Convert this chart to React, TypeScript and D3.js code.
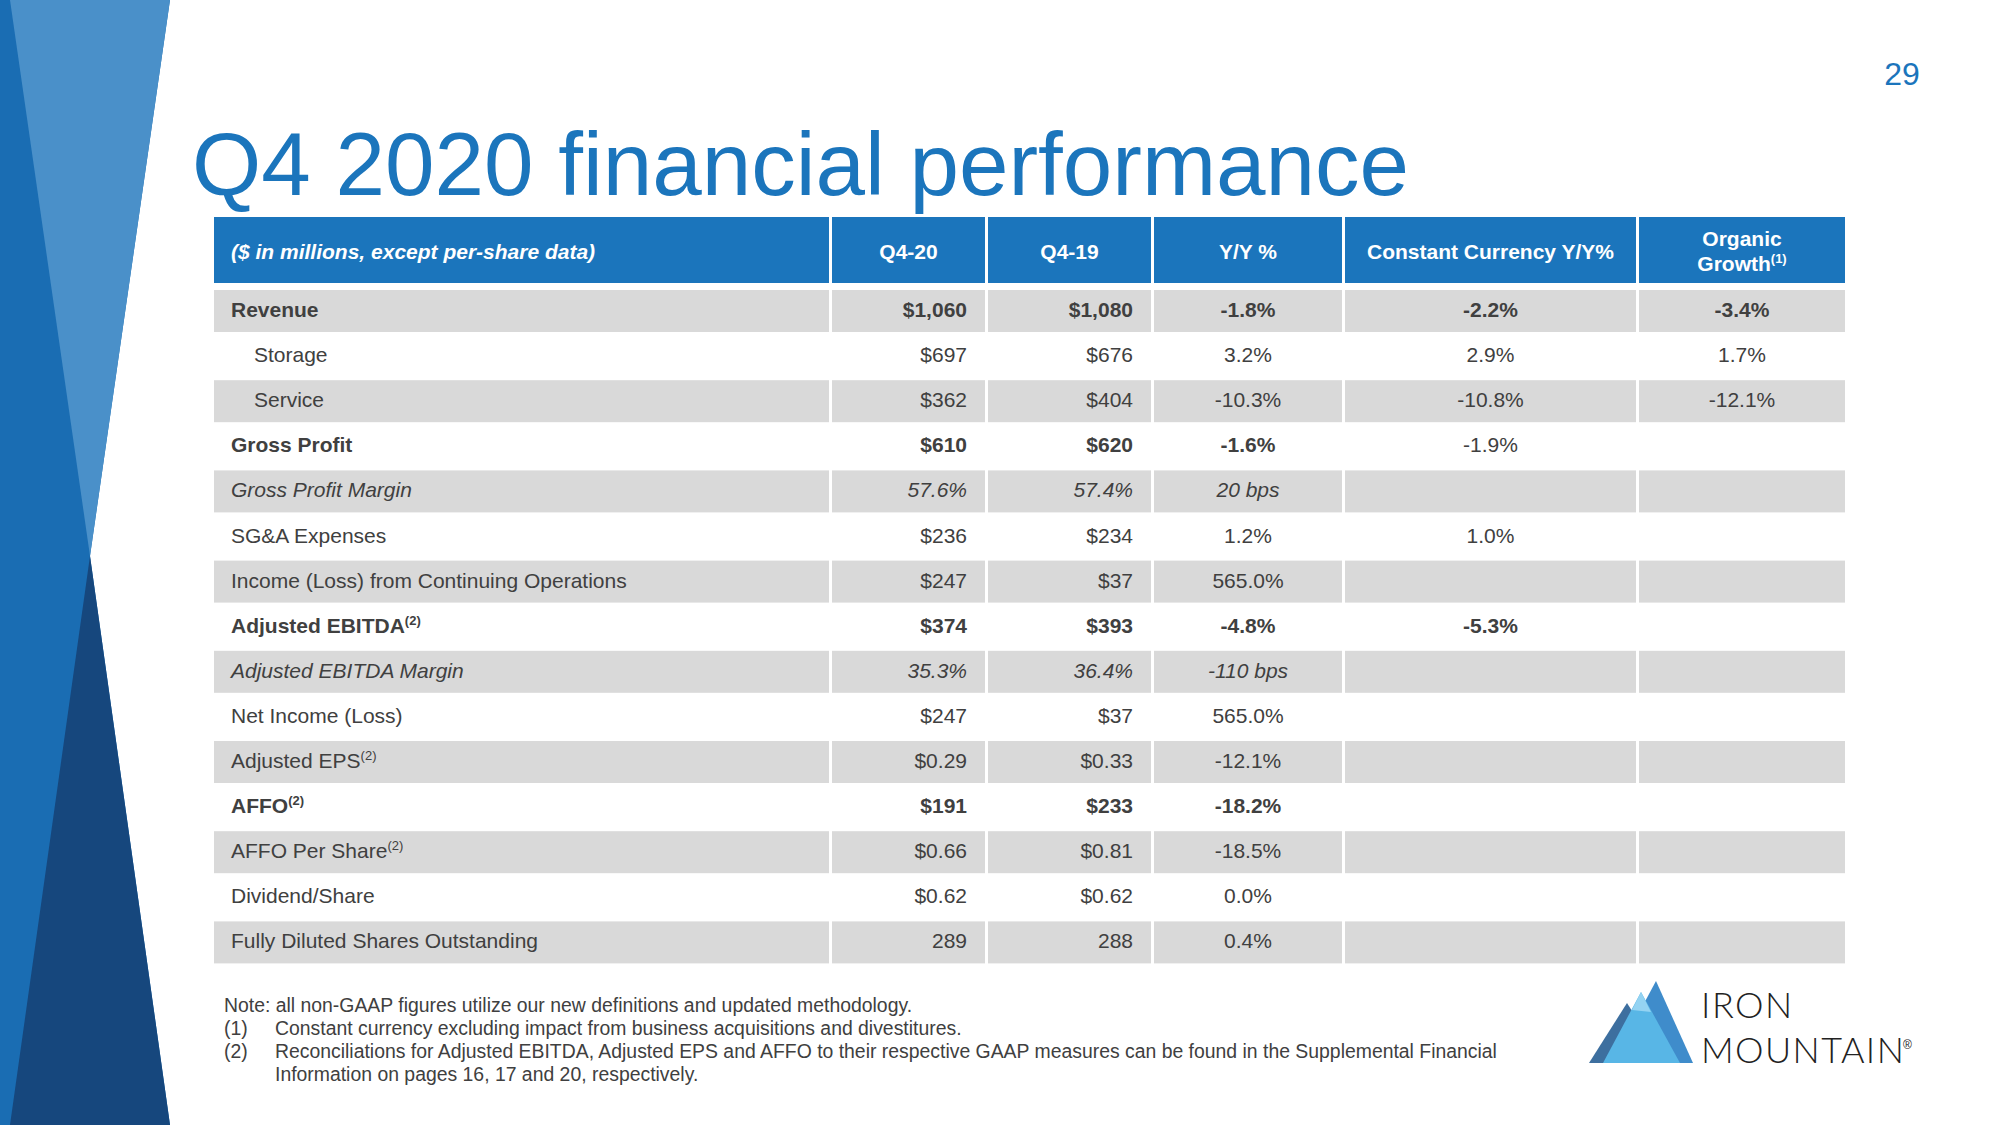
import React from "react";
import * as d3 from "d3";

// ---------- data ----------
const headers = ["($ in millions, except per-share data)", "Q4-20", "Q4-19", "Y/Y %", "Constant Currency Y/Y%", "Organic|Growth"];
const rowLabels = [
  "Revenue", "Storage", "Service", "Gross Profit", "Gross Profit Margin", "SG&A Expenses",
  "Income (Loss) from Continuing Operations", "Adjusted EBITDA", "Adjusted EBITDA Margin",
  "Net Income (Loss)", "Adjusted EPS", "AFFO", "AFFO Per Share", "Dividend/Share",
  "Fully Diluted Shares Outstanding",
];
const rowSup = ["", "", "", "", "", "", "", "(2)", "", "", "(2)", "(2)", "(2)", "", ""];
const rowStyle = ["bold", "indent", "indent", "bold", "italic", "", "", "bold", "italic", "", "", "bold", "", "", ""];
const q420 = ["$1,060", "$697", "$362", "$610", "57.6%", "$236", "$247", "$374", "35.3%", "$247", "$0.29", "$191", "$0.66", "$0.62", "289"];
const q419 = ["$1,080", "$676", "$404", "$620", "57.4%", "$234", "$37", "$393", "36.4%", "$37", "$0.33", "$233", "$0.81", "$0.62", "288"];
const yoy = ["-1.8%", "3.2%", "-10.3%", "-1.6%", "20 bps", "1.2%", "565.0%", "-4.8%", "-110 bps", "565.0%", "-12.1%", "-18.2%", "-18.5%", "0.0%", "0.4%"];
const constCurr = ["-2.2%", "2.9%", "-10.8%", "-1.9%", "", "1.0%", "", "-5.3%", "", "", "", "", "", "", ""];
const constCurrBold = [true, false, false, false, false, false, false, true, false, false, false, false, false, false, false];
const organic = ["-3.4%", "1.7%", "-12.1%", "", "", "", "", "", "", "", "", "", "", "", ""];
const footnotes = [
  ["", "Note: all non-GAAP figures utilize our new definitions and updated methodology."],
  ["(1)", "Constant currency excluding impact from business acquisitions and divestitures."],
  ["(2)", "Reconciliations for Adjusted EBITDA, Adjusted EPS and AFFO to their respective GAAP measures can be found in the Supplemental Financial"],
  ["", "Information on pages 16, 17 and 20, respectively."],
];

// ---------- layout ----------
const W = 2000, H = 1125;
const FONT = "'Liberation Sans', Arial, sans-serif";
const BLUE = "#1b75bc";
const GREY = "#d9d9d9";
const TXT = "#404040";
const colEdges = [214, 832, 988, 1154, 1345, 1639, 1845];
const GAP = 3;

export default function App() {
  const nRows = rowLabels.length;
  const rowTop = 290, pitch = 45.1, gh = 42;
  const y = d3.scaleBand<number>()
    .domain(d3.range(nRows))
    .range([rowTop, rowTop + pitch * nRows - (pitch - gh)])
    .paddingInner((pitch - gh) / pitch)
    .paddingOuter(0);
  const colX = (i: number) => colEdges[i];
  const colW = (i: number) => colEdges[i + 1] - colEdges[i] - (i < 5 ? GAP : 0);
  const fs = 21;
  const base = (i: number) => (y(i) as number) + y.bandwidth() / 2 + fs * 0.36 - 1.5;

  const cellText = (txt: string, col: number, i: number, weight: string, italic: boolean, align: "right" | "middle") => {
    if (!txt) return null;
    const x = align === "right" ? colX(col) + colW(col) - 18 : colX(col) + colW(col) / 2;
    return (
      <text key={`c${col}-${i}`} x={x} y={base(i)} textAnchor={align === "right" ? "end" : "middle"}
        fontFamily={FONT} fontSize={fs} fontWeight={weight} fontStyle={italic ? "italic" : "normal"} fill={TXT}>
        {txt}
      </text>
    );
  };

  return (
    <svg width={W} height={H} style={{ display: "block", position: "absolute", left: 0, top: 0 }}>
      <rect width={W} height={H} fill="#fff" />
      {/* left decoration */}
      <polygon points="0,0 170,0 90,556 170,1125 0,1125" fill="#1a6db3" />
      <polygon points="10,0 170,0 90,556" fill="#4a90c9" />
      <polygon points="90,556 170,1125 10,1125" fill="#16477d" />

      {/* page number */}
      <text x={1902} y={85} textAnchor="middle" fontFamily={FONT} fontSize={32} fill={BLUE}>29</text>

      {/* title */}
      <text x={192} y={195} fontFamily={FONT} fontSize={89} fill={BLUE}>Q4 2020 financial performance</text>

      {/* header */}
      {headers.map((h, c) => (
        <rect key={`h${c}`} x={colX(c)} y={217} width={colW(c)} height={66} fill={BLUE} />
      ))}
      <text x={231} y={251 + 7.5} fontFamily={FONT} fontSize={fs} fontWeight="bold" fontStyle="italic" fill="#fff">{headers[0]}</text>
      {headers.slice(1, 5).map((h, k) => (
        <text key={`ht${k}`} x={colX(k + 1) + colW(k + 1) / 2} y={251 + 7.5} textAnchor="middle"
          fontFamily={FONT} fontSize={fs} fontWeight="bold" fill="#fff">{h}</text>
      ))}
      <text x={colX(5) + colW(5) / 2} y={238 + 7.5} textAnchor="middle" fontFamily={FONT} fontSize={fs} fontWeight="bold" fill="#fff">
        {headers[5].split("|")[0]}
      </text>
      <text x={colX(5) + colW(5) / 2} y={263 + 7.5} textAnchor="middle" fontFamily={FONT} fontSize={fs} fontWeight="bold" fill="#fff">
        {headers[5].split("|")[1]}
        <tspan fontSize={13} dy={-8}>(1)</tspan>
      </text>

      {/* row backgrounds */}
      {d3.range(nRows).filter((i) => i % 2 === 0).map((i) =>
        d3.range(6).map((c) => (
          <rect key={`bg${i}-${c}`} x={colX(c)} y={y(i)} width={colW(c)} height={y.bandwidth()} fill={GREY} />
        ))
      )}

      {/* rows */}
      {rowLabels.map((lab, i) => {
        const st = rowStyle[i];
        const bold = st === "bold";
        const italic = st === "italic";
        return (
          <g key={`r${i}`}>
            <text x={st === "indent" ? 254 : 231} y={base(i)} fontFamily={FONT} fontSize={fs}
              fontWeight={bold ? "bold" : "normal"} fontStyle={italic ? "italic" : "normal"} fill={TXT}>
              {lab}
              {rowSup[i] && <tspan fontSize={13} dy={-8}>{rowSup[i]}</tspan>}
            </text>
            {cellText(q420[i], 1, i, bold ? "bold" : "normal", italic, "right")}
            {cellText(q419[i], 2, i, bold ? "bold" : "normal", italic, "right")}
            {cellText(yoy[i], 3, i, bold ? "bold" : "normal", italic, "middle")}
            {cellText(constCurr[i], 4, i, constCurrBold[i] ? "bold" : "normal", italic, "middle")}
            {cellText(organic[i], 5, i, bold ? "bold" : "normal", italic, "middle")}
          </g>
        );
      })}

      {/* footnotes */}
      {footnotes.map(([k, t], i) => (
        <g key={`f${i}`}>
          {k && <text x={224} y={1012 + i * 23} fontFamily={FONT} fontSize={19.4} fill={TXT}>{k}</text>}
          <text x={i === 0 ? 224 : 275} y={1012 + i * 23} fontFamily={FONT} fontSize={19.4} fill={TXT}>{t}</text>
        </g>
      ))}

      {/* logo */}
      <g>
        <polygon points="1589,1063 1627,1003 1665,1063" fill="#3d6f9f" />
        <polygon points="1612,1063 1656,981 1693,1063" fill="#3f8ccb" />
        <polygon points="1603,1063 1641,992 1680,1063" fill="#58b6e6" />
        <polygon points="1641,992 1632,1010 1651,1012" fill="#94d3f2" />
        <text x={1701} y={1018} fontFamily="Lato, 'Open Sans', sans-serif" fontWeight={300} fontSize={36} letterSpacing={1.5} fill="#222">IRON</text>
        <text x={1701} y={1063} fontFamily="Lato, 'Open Sans', sans-serif" fontWeight={300} fontSize={36} letterSpacing={1.4} fill="#222">MOUNTAIN</text>
        <text x={1903} y={1049} fontFamily={FONT} fontSize={12} fill="#222">®</text>
      </g>
    </svg>
  );
}
